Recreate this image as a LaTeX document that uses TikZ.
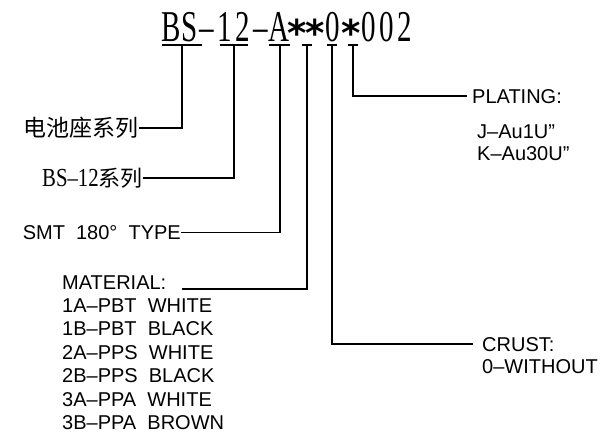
\documentclass[tikz,border=0pt]{standalone}
\usepackage{graphicx}
\usepackage{fontspec}
\setmainfont{Liberation Sans}
\newfontfamily\titlefont{Liberation Serif}
\newfontfamily\starfont{DejaVu Sans}
\newfontfamily\cjk{Noto Sans CJK SC}
\newcommand\narrow[1]{\scalebox{0.66}[1]{#1}}
\newcommand\cell[1]{\makebox[18pt]{\narrow{#1}}}
\newcommand\starcell{\makebox[18pt]{\raisebox{-4.5pt}{\starfont\bfseries\fontsize{37}{37}\selectfont *}}}
\usetikzlibrary{positioning, calc}

\tikzset{
    lead/.style={line width=1.3pt},
    titlelbl/.style={font=\titlefont\fontsize{44}{44}\selectfont, inner sep=0pt},
    lbl/.style={font=\fontsize{20}{20}\selectfont, inner sep=0pt},
    cnlbl/.style={font=\cjk\fontsize{22}{22}\selectfont, inner sep=0pt}
}

\begin{document}
\begin{tikzpicture}[x=1pt, y=-1pt]
    \useasboundingbox (0,0) rectangle (608,436);

    % Part number, one character per cell
    \node[titlelbl, anchor=base west] (title) at (162,42)
        {\cell{B}\cell{S}\cell{–}\cell{1}\cell{2}\cell{–}\cell{A}\starcell\starcell\cell{0}\starcell\cell{0}\cell{0}\cell{2}};

    % Underlines below the code fields
    \draw[lead] (162,45) -- (202,45);
    \draw[lead] (220,45) -- (248,45);
    \draw[lead] (269,45) -- (290,45);
    \draw[lead] (302,45) -- (312,45);
    \draw[lead] (327,45) -- (337,45);
    \draw[lead] (348,45) -- (358,45);

    \coordinate (pBS) at (182,45);
    \coordinate (pNum) at (234,45);
    \coordinate (pType) at (280,45);
    \coordinate (pMat) at (307,45);
    \coordinate (pCrust) at (332,45);
    \coordinate (pPlat) at (353,45);

    % Left side labels
    \node[cnlbl, anchor=east] (series) at (139,128) {\fontsize{23}{23}\selectfont 电池座系列};
    \node[cnlbl, anchor=east] (bs12) at (143,178)
        {{\titlefont\fontsize{26}{26}\selectfont\scalebox{0.8}[1]{BS–12}}系列};
    \node[lbl, anchor=east] (smt) at (181,232.5) {SMT~~180°~~TYPE};

    \node[lbl, anchor=base west] (mathead) at (62,289) {MATERIAL:};
    \foreach \txt [count=\i] in {1A–PBT~~WHITE, 1B–PBT~~BLACK, 2A–PPS~~WHITE,
        2B–PPS~~BLACK, 3A–PPA~~WHITE, 3B–PPA~~BROWN}
        \node[lbl, anchor=base west] (mat\i) at (62,{289+23.4*\i}) {\txt};

    % Right side labels
    \node[lbl, anchor=base west] (plathead) at (472,103) {PLATING:};
    \node[lbl, anchor=base west] (plat1) at (477,138) {J–Au1U”};
    \node[lbl, anchor=base west] (plat2) at (477,160) {K–Au30U”};

    \node[lbl, anchor=base west] (crusthead) at (482,351) {CRUST:};
    \node[lbl, anchor=base west] (crust1) at (482,373) {0–WITHOUT};

    % Leader lines
    \draw[lead] (pBS) |- (series.east);
    \draw[lead] (pNum) |- (bs12.east);
    \draw[lead] (pType) |- (smt.east);
    \draw[lead] (pMat) |- ([xshift=16pt]mathead.base east);
    \draw[lead] (pCrust) |- ([xshift=-9pt]crusthead.west);
    \draw[lead] (pPlat) |- ([xshift=-5pt]plathead.west);
\end{tikzpicture}
\end{document}
